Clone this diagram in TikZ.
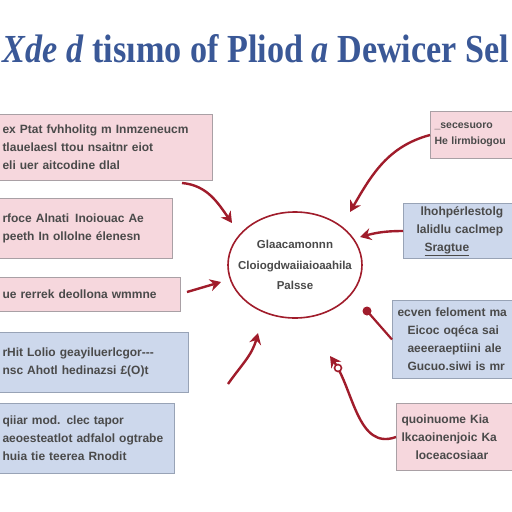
\documentclass[tikz,border=0pt]{standalone}
\usepackage{fontspec}
\setmainfont{Liberation Serif}
\newfontfamily\boxfont{Liberation Sans}
\usetikzlibrary{arrows.meta,calc,shapes.geometric}
\definecolor{titleblue}{HTML}{3A5897}
\definecolor{pinkfill}{HTML}{F6D7DD}
\definecolor{pinkline}{HTML}{A9A0A5}
\definecolor{bluefill}{HTML}{CDD8EC}
\definecolor{blueline}{HTML}{98A3B6}
\definecolor{arrred}{HTML}{A01C2B}
\definecolor{txtgray}{HTML}{4A4A4A}
\tikzset{
  boxbase/.style={draw, line width=1pt, anchor=north west, inner xsep=5pt, inner ysep=2pt,
    font=\boxfont\bfseries\fontsize{12}{18}\selectfont, text=txtgray},
  pinkbox/.style={boxbase, fill=pinkfill, draw=pinkline},
  bluebox/.style={boxbase, fill=bluefill, draw=blueline},
  arr/.style={draw=arrred, line width=2.4pt, -{Stealth[length=11pt,width=12pt]}},
  arrplain/.style={draw=arrred, line width=2.2pt},
}
\begin{document}
\begin{tikzpicture}[x=1pt,y=1pt]
\useasboundingbox (0,0) rectangle (512,-512);
\fill[white] (0,0) rectangle (512,-512);
% title
\node[text=titleblue, inner sep=0pt, anchor=base] (title) at (256,-62)
  {\resizebox{506pt}{28pt}{\bfseries\textit{Xde d} tisımo of Pliod \textit{a} Dewicer Sel}};
% left boxes
\node[pinkbox, text width=205pt, minimum height=66pt, align=left] (b1) at (-3,-114)
  {ex Ptat fvhholitg m Inmzeneucm\\tlauelaesl ttou nsaitnr eiot\\eli uer aitcodine dlal};
\node[pinkbox, text width=165pt, minimum height=60pt, align=left] (b2) at (-3,-198)
  {rfoce Alnati\enspace Inoiouac Ae\\peeth In ollolne élenesn};
\node[pinkbox, text width=173pt, minimum height=34pt, align=left] (b3) at (-3,-277)
  {ue rerrek deollona wmmne};
\node[bluebox, text width=181pt, minimum height=60pt, align=left] (b4) at (-3,-332)
  {rHit Lolio geayiluerlcgor---\\nsc Ahotl hedinazsi £(O)t};
\node[bluebox, text width=167pt, minimum height=70pt, align=left] (b5) at (-3,-403)
  {qiiar mod. clec tapor\\aeoesteatlot adfalol ogtrabe\\huia tie teerea Rnodit};
% right boxes
\node[pinkbox, text width=78pt, inner xsep=4pt, minimum height=47pt, align=left,
  font=\boxfont\bfseries\fontsize{10.5}{16}\selectfont] (b6) at (430,-111)
  {\_secesuoro\\He lirmbiogou};
\node[bluebox, text width=108pt, minimum height=55pt, align=left] (b7) at (403,-203)
  {\hspace*{12pt}lhohpérlestolg\\\hspace*{8pt}lalidlu caclmep\\\hspace*{16pt}\underline{Sragtue}};
\node[bluebox, text width=119pt, minimum height=78pt, align=left] (b8) at (392,-300)
  {ecven feloment ma\\\hspace*{10pt}Eicoc oqéca sai\\\hspace*{10pt}aeeeraeptiini ale\\\hspace*{10pt}Gucuo.siwi is mr};
\node[pinkbox, text width=115pt, minimum height=67pt, align=left] (b9) at (396,-403)
  {quoinuome Kia\\lkcaoinenjoic Ka\\\hspace*{14pt}loceacosiaar};
% central ellipse
\node[draw=arrred, line width=1.6pt, fill=white, ellipse, minimum width=134pt, minimum height=106pt,
  inner sep=0pt] (hub) at (295,-265) {};
\node[align=center, text=txtgray, inner sep=0pt, font=\boxfont\bfseries\fontsize{11.5}{20.5}\selectfont] (hubtext) at (hub.center)
  {Glaacamonnn\\Cloiogdwaiiaioaahila\\Palsse};
% arrow end points
\coordinate (s1) at (182,-183);
\coordinate (t1) at (232,-223);
\coordinate (t2) at (350,-212);
\coordinate (t3) at (360,-237);
\coordinate (s4) at (187,-292);
\coordinate (t4) at (221,-282);
\coordinate (s5) at (228,-384);
\coordinate (t5) at (258,-333);
\coordinate (t6) at (367,-311);
\coordinate (t7) at (330,-356);
\coordinate (c7) at (338,-368);
% arrows
\draw[arr] (s1) to[out=-5, in=125] (t1);
\draw[arr] (b6.west) to[out=195, in=60] (t2);
\draw[arr] (b7.west) to[out=180, in=15] (t3);
\draw[arr] (s4) -- (t4);
\draw[arr] (s5) to[out=55, in=255] (t5);
\draw[arrplain] (b8.west) -- (t6);
\fill[arrred] (t6) circle (4.5pt);
\draw[arr] (b9.west) to[out=200, in=-55] (t7);
\draw[arrred, line width=1.6pt, fill=white] (c7) circle (3.5pt);
\end{tikzpicture}
\end{document}
